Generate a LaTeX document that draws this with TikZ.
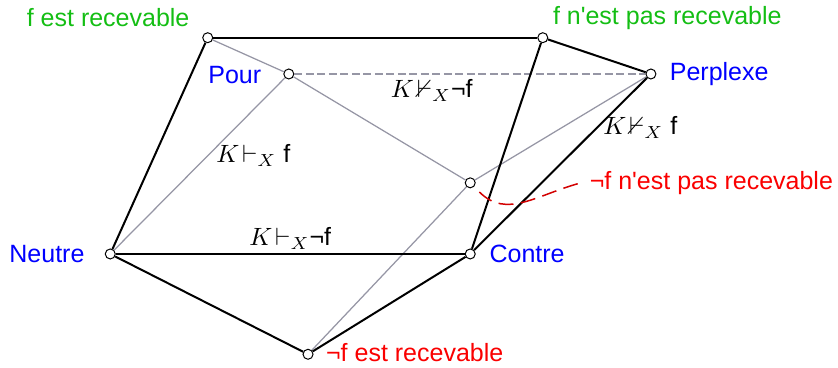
\documentclass[tikz,border=0pt]{standalone}
\usepackage{amssymb}
\usepackage{fontspec}
\setmainfont{Liberation Sans}
\definecolor{vert}{RGB}{20,190,20}
\definecolor{bleu}{RGB}{0,0,255}
\definecolor{rouge}{RGB}{250,0,0}
\definecolor{rougef}{RGB}{210,0,0}
\definecolor{gris}{RGB}{150,150,165}
\begin{document}
\begin{tikzpicture}[
  pt/.style={circle,draw,fill=white,inner sep=0pt,minimum size=4pt,line width=0.4pt},
  arete/.style={line width=0.8pt},
  grisline/.style={draw=gris,line width=0.5pt},
  grisdash/.style={grisline,dash pattern=on 3.2pt off 1.4pt}
]
  \useasboundingbox (0,0) rectangle (11.78,5.16);
  % sommets
  \node[pt] (fr)   at (2.92,4.63) {};
  \node[pt] (fnr)  at (7.63,4.63) {};
  \node[pt] (pour) at (4.06,4.12) {};
  \node[pt] (perp) at (9.15,4.12) {};
  \node[pt] (mil)  at (6.61,2.59) {};
  \node[pt] (neut) at (1.55,1.59) {};
  \node[pt] (cont) at (6.61,1.59) {};
  \node[pt] (nfr)  at (4.33,0.18) {};

  % aretes grises
  \draw[grisline] (fr) -- (pour);
  \draw[grisline] (pour) -- (neut);
  \draw[grisline] (pour) -- (mil);
  \draw[grisline] (mil) -- (perp);
  \draw[grisline] (nfr) -- (mil);
  \draw[grisdash] (pour) -- (perp);

  % aretes noires
  \draw[arete] (fr) -- (fnr);
  \draw[arete] (fr) -- (neut);
  \draw[arete] (fnr) -- (perp);
  \draw[arete] (fnr) -- (cont);
  \draw[arete] (neut) -- (cont);
  \draw[arete] (neut) -- (nfr);
  \draw[arete] (nfr) -- (cont);
  \draw[arete] (cont) -- (perp);

  % etiquettes des sommets
  \node[vert]  (lfr)   at (1.52,4.91) {f est recevable};
  \node[vert]  (lfnr)  at (9.38,4.91) {f n\textquotesingle est pas recevable};
  \node[bleu]  (lpour) at (3.30,4.11) {Pour};
  \node[bleu]  (lperp) at (10.11,4.12) {Perplexe};
  \node[bleu]  (lneut) at (0.66,1.59) {Neutre};
  \node[bleu]  (lcont) at (7.41,1.59) {Contre};
  \node[rouge] (lnfr)  at (5.83,0.20) {¬f est recevable};
  \node[rouge] (lnfnr) at (10.00,2.59) {¬f n\textquotesingle est pas recevable};

  % relations
  \node (r1) at (6.07,3.89) {$K\mkern2mu{\nvdash_X}$¬f};
  \node (r2) at (9.00,3.37) {$K\mkern2mu{\nvdash_X}$ f};
  \node (r3) at (3.56,2.97) {$K\mkern2mu{\vdash_X}$ f};
  \node (r4) at (4.08,1.81) {$K\mkern2mu{\vdash_X}$¬f};

  \draw[rougef,line width=0.6pt,dash pattern=on 6pt off 3pt,shorten <=3pt]
    (mil) to[out=-45,in=195,looseness=1.1] (lnfnr.west);
\end{tikzpicture}
\end{document}
